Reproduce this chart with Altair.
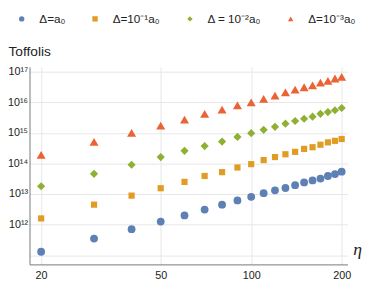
import altair as alt
import pandas as pd

eta = [20, 30, 40, 50, 60, 70, 80, 90, 100, 110, 120, 130, 140, 150, 160, 170, 180, 190, 200]

toff_a0 = [1.3e11, 3.5e11, 7.1e11, 1.26e12, 2.0e12, 3.1e12, 4.5e12, 6.2e12, 8.1e12, 1.07e13,
           1.32e13, 1.58e13, 1.95e13, 2.4e13, 2.8e13, 3.2e13, 3.9e13, 4.5e13, 5.4e13]
toff_a1 = [1.6e12, 4.5e12, 8.9e12, 1.55e13, 2.5e13, 3.9e13, 5.2e13, 7.4e13, 9.5e13, 1.29e14,
           1.62e14, 2.0e14, 2.4e14, 3.0e14, 3.4e14, 4.1e14, 4.9e14, 5.5e14, 6.3e14]
toff_a2 = [1.8e13, 4.6e13, 9.1e13, 1.62e14, 2.6e14, 3.7e14, 5.2e14, 7.4e14, 9.8e14, 1.26e15,
           1.58e15, 2.0e15, 2.45e15, 2.9e15, 3.4e15, 4.2e15, 4.8e15, 5.5e15, 6.5e15]
toff_a3 = [1.9e14, 5.1e14, 1.0e15, 1.74e15, 2.7e15, 4.2e15, 5.8e15, 7.9e15, 1.0e16, 1.29e16,
           1.66e16, 2.1e16, 2.6e16, 3.1e16, 3.6e16, 4.4e16, 5.0e16, 6.0e16, 6.8e16]

labels = ["Δ=a₀", "Δ=10⁻¹a₀", "Δ = 10⁻²a₀", "Δ=10⁻³a₀"]
colors = ["#5E81B5", "#E19C24", "#8FB032", "#EB6235"]
shapes = ["circle", "square", "diamond", "triangle-up"]
sizes = [64, 40, 70, 85]

x_ticks = [20, 50, 100, 200]
y_ticks = [1e11, 1e12, 1e13, 1e14, 1e15, 1e16, 1e17]

series_vals = [toff_a0, toff_a1, toff_a2, toff_a3]
rows = []
for lab, vals in zip(labels, series_vals):
    for e, v in zip(eta, vals):
        rows.append({"eta": e, "T": v, "series": lab})
df = pd.DataFrame(rows)

ylabel_expr = ("datum.value == 1e12 ? '10¹²' : datum.value == 1e13 ? '10¹³' : "
               "datum.value == 1e14 ? '10¹⁴' : datum.value == 1e15 ? '10¹⁵' : "
               "datum.value == 1e16 ? '10¹⁶' : datum.value == 1e17 ? '10¹⁷' : ''")

x_enc = alt.X("eta:Q",
              scale=alt.Scale(type="log", domain=[18.3, 209], nice=False),
              axis=alt.Axis(values=x_ticks, title="η", titleAngle=0, titleAlign="center",
                            titleBaseline="middle", titleX=335, titleY=-15,
                            titleFont="Liberation Serif", titleFontStyle="italic",
                            titleFontWeight="normal", titleFontSize=18, titleColor="#222",
                            labelFontSize=11, tickSize=0, labelPadding=5, format="d"))
y_enc = alt.Y("T:Q",
              scale=alt.Scale(type="log", domain=[10 ** 10.7, 10 ** 17.16], nice=False),
              axis=alt.Axis(values=y_ticks, title="Toffolis", titleAngle=0, titleAlign="left",
                            titleBaseline="middle", titleX=-22, titleY=-16,
                            titleFont="Liberation Sans", titleFontWeight="normal",
                            titleFontSize=14, titleColor="#222",
                            labelExpr=ylabel_expr, labelFontSize=11, tickSize=0, labelPadding=2))
color_enc = alt.Color("series:N", sort=labels,
                      scale=alt.Scale(domain=labels, range=colors),
                      legend=alt.Legend(title=None, orient="none", direction="horizontal",
                                        legendX=-14, legendY=-55, columns=4, columnPadding=24,
                                        labelOffset=12, symbolSize=30, labelFontSize=12,
                                        labelFont="Liberation Sans", labelColor="#222"))
shape_enc = alt.Shape("series:N", sort=labels,
                      scale=alt.Scale(domain=labels, range=shapes), legend=None)

layers = []
for lab, sz in zip(labels, sizes):
    layers.append(
        alt.Chart(df).transform_filter(alt.datum.series == lab)
        .mark_point(filled=True, opacity=1, size=sz)
        .encode(x=x_enc, y=y_enc, color=color_enc, shape=shape_enc)
    )

chart = alt.layer(*layers).properties(
    width=325, height=202,
    autosize=alt.AutoSizeParams(type="none"),
    padding={"left": 22, "top": 57, "right": 19, "bottom": 22},
).configure_view(stroke=None).configure_axis(
    labelFont="Liberation Sans", labelColor="#222", gridColor="#e6e6e6",
    domainColor="#777", tickColor="#777", grid=True
)

chart.save("out.html", embed_options={"renderer": "svg", "actions": False})
